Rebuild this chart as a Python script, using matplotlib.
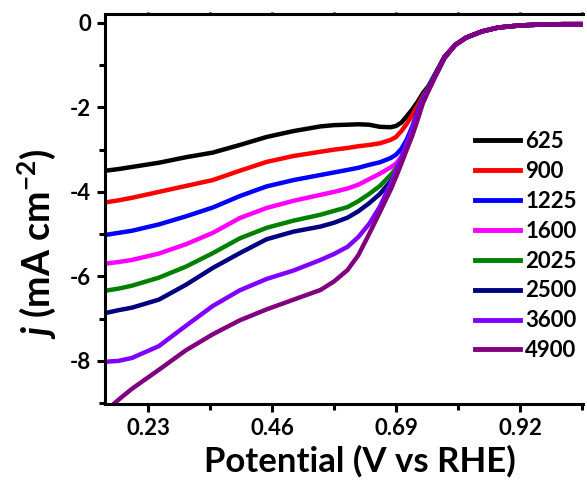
import numpy as np
import matplotlib
matplotlib.use('Agg')
import matplotlib.pyplot as plt
import matplotlib.font_manager as fm
from matplotlib.ticker import MultipleLocator

names = set(f.name for f in fm.fontManager.ttflist)
fam = 'Liberation Sans Narrow' if 'Liberation Sans Narrow' in names else 'Lato'
plt.rcParams['font.family'] = [fam, 'DejaVu Sans']
plt.rcParams['font.weight'] = 'bold'
plt.rcParams['mathtext.fontset'] = 'custom'
plt.rcParams['mathtext.rm'] = fam + ':bold'
plt.rcParams['mathtext.it'] = fam + ':bold:italic'

# potential (V vs RHE)
potential = [0.15, 0.175, 0.20, 0.25, 0.30, 0.35, 0.40, 0.45, 0.50, 0.55,
             0.575, 0.60, 0.62, 0.64, 0.66, 0.68, 0.69, 0.70, 0.71, 0.72,
             0.73, 0.74, 0.75, 0.76, 0.78,
             0.80, 0.82, 0.85, 0.88, 0.92, 0.96, 1.00, 1.04]

# all curves merge above 0.8 V
tail = [-0.52, -0.35, -0.20, -0.11, -0.06, -0.04, -0.03, -0.03]

j_625 = [-3.50, -3.46, -3.41, -3.31, -3.18, -3.07, -2.89, -2.70, -2.56, -2.45,
         -2.42, -2.41, -2.40, -2.41, -2.46, -2.47, -2.44, -2.36, -2.21, -2.05,
         -1.87, -1.66, -1.50, -1.27, -0.80] + tail
j_900 = [-4.25, -4.20, -4.14, -4.00, -3.86, -3.72, -3.50, -3.29, -3.15, -3.05,
         -3.00, -2.96, -2.92, -2.89, -2.85, -2.77, -2.70, -2.56, -2.39, -2.18,
         -1.96, -1.72, -1.53, -1.28, -0.80] + tail
j_1225 = [-5.02, -4.97, -4.92, -4.77, -4.58, -4.37, -4.10, -3.87, -3.72, -3.60,
          -3.54, -3.48, -3.43, -3.36, -3.30, -3.20, -3.12, -2.98, -2.76, -2.46,
          -2.09, -1.76, -1.54, -1.29, -0.81] + tail
j_1600 = [-5.70, -5.66, -5.61, -5.46, -5.24, -4.97, -4.62, -4.38, -4.21, -4.07,
          -4.00, -3.92, -3.83, -3.70, -3.57, -3.42, -3.33, -3.17, -2.90, -2.54,
          -2.13, -1.77, -1.55, -1.30, -0.81] + tail
j_2025 = [-6.34, -6.29, -6.22, -6.03, -5.77, -5.45, -5.10, -4.85, -4.68, -4.54,
          -4.45, -4.36, -4.22, -4.05, -3.86, -3.60, -3.45, -3.22, -2.90, -2.53,
          -2.14, -1.78, -1.56, -1.30, -0.82] + tail
j_2500 = [-6.87, -6.80, -6.74, -6.55, -6.20, -5.80, -5.45, -5.12, -4.94, -4.82,
          -4.73, -4.61, -4.46, -4.27, -4.05, -3.75, -3.58, -3.28, -2.94, -2.57,
          -2.16, -1.80, -1.57, -1.31, -0.82] + tail
j_3600 = [-8.02, -8.00, -7.93, -7.65, -7.17, -6.70, -6.33, -6.06, -5.86, -5.61,
          -5.47, -5.30, -5.07, -4.76, -4.35, -3.80, -3.50, -3.18, -2.85, -2.51,
          -2.16, -1.82, -1.59, -1.33, -0.83] + tail
j_4900 = [-9.20, -8.92, -8.66, -8.21, -7.75, -7.37, -7.04, -6.78, -6.55, -6.32,
          -6.12, -5.85, -5.50, -5.00, -4.48, -3.95, -3.65, -3.33, -3.00, -2.68,
          -2.30, -1.90, -1.62, -1.35, -0.84] + tail

rpm = ['625', '900', '1225', '1600', '2025', '2500', '3600', '4900']
curves = [j_625, j_900, j_1225, j_1600, j_2025, j_2500, j_3600, j_4900]
colors = ['#000000', '#ff0000', '#0000ff', '#ff00ff', '#008000', '#000080', '#8000ff', '#800080']

fig = plt.figure(figsize=(5.87, 4.91), dpi=100)
ax = fig.add_axes([105/587, 1-404/491, 478/587, 390/491])

for lab, y, c in zip(rpm, curves, colors):
    ax.plot(potential, y, color=c, lw=3.2, label=lab)

ax.set_xlim(0.15, 1.037)
ax.set_ylim(-9.02, 0.21)
ax.xaxis.set_minor_locator(MultipleLocator(0.115))
ax.yaxis.set_minor_locator(MultipleLocator(1))
ax.set_xticks([0.23, 0.46, 0.69, 0.92])
ax.set_xticklabels(['0.23', '0.46', '0.69', '0.92'])
ax.set_yticks([0, -2, -4, -6, -8])
ax.set_yticklabels(['0', '-2', '-4', '-6', '-8'])

for s in ['left', 'bottom', 'top']:
    ax.spines[s].set_linewidth(2.2)
ax.spines['right'].set_visible(False)
ax.tick_params(which='major', direction='out', length=6, width=2.2, labelsize=16, pad=4)
ax.tick_params(which='minor', direction='out', length=4.5, width=2.2)
ax.tick_params(axis='x', which='both', top=True, labeltop=False)
# tiny ticks on the top spine
for t in ax.xaxis.get_ticklines(minor=False)[1::2] + ax.xaxis.get_ticklines(minor=True)[1::2]:
    t.set_markersize(1.5)

ax.set_xlabel('Potential (V vs RHE)', fontsize=25, fontweight='bold')
ax.set_ylabel(r'$j$ (mA cm$^{-2}$)', fontsize=27, fontweight='bold')
ax.xaxis.set_label_coords(0.533, -0.105)
ax.yaxis.set_label_coords(-0.098, 0.41)

leg = ax.legend(loc='upper left', bbox_to_anchor=(0.775, 0.70), frameon=False,
                fontsize=16, handlelength=2.0, handletextpad=0.25,
                labelspacing=0.4, borderpad=0, borderaxespad=0)
for h in leg.get_lines():
    h.set_linewidth(3.5)

fig.savefig('out.png', dpi=100)
